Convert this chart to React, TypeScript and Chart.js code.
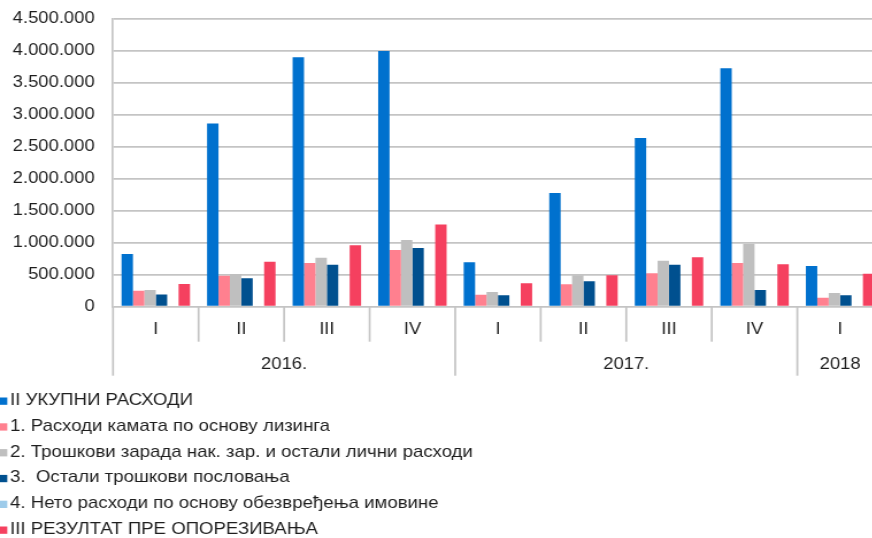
import React, { useEffect, useRef } from 'react';
import { Chart, registerables } from 'chart.js';

Chart.register(...registerables);

const quarterLabels = ['I', 'II', 'III', 'IV', 'I', 'II', 'III', 'IV', 'I'];
const yearLabels = ['2016.', '2017.', '2018'];
const yearSpans = [4, 4, 1];

const seriesNames = [
  'II УКУПНИ РАСХОДИ',
  '1. Расходи камата по основу лизинга',
  '2. Трошкови зарада нак. зар. и остали лични расходи',
  '3.  Остали трошкови пословања',
  '4. Нето расходи по основу обезвређења имовине',
  'III РЕЗУЛТАТ ПРЕ ОПОРЕЗИВАЊА',
];

const totalExpenses = [825000, 2865000, 3900000, 4000000, 695000, 1780000, 2640000, 3730000, 635000];
const leasingInterest = [250000, 485000, 685000, 885000, 185000, 350000, 525000, 685000, 140000];
const salaryCosts = [260000, 510000, 765000, 1045000, 230000, 490000, 720000, 985000, 215000];
const otherCosts = [190000, 445000, 655000, 920000, 180000, 400000, 655000, 260000, 180000];
const impairment = [0, 0, 0, 0, 0, 0, 0, 0, 0];
const resultBeforeTax = [355000, 705000, 960000, 1285000, 365000, 490000, 775000, 665000, 515000];

const yTicks = [0, 500000, 1000000, 1500000, 2000000, 2500000, 3000000, 3500000, 4000000, 4500000];

const colors = ['#0071CE', '#FF808F', '#BFBFBF', '#00508F', '#9DCBEA', '#F5405F'];

const GRID = '#c4c4c4';
const TEXT = '#1e1e1e';
const FONT = "'Liberation Sans', Arial, sans-serif";

// horizontal stretch of the reference rendering
const CSS_W = 884;
const ATTR_W = 769;
const H = 538;
const S = CSS_W / ATTR_W;

const fmt = (v: number) => String(Math.round(v)).replace(/\B(?=(\d{3})+(?!\d))/g, '.');

const axisLegendPlugin = {
  id: 'axisLegend',
  afterDraw(chart: any) {
    const ctx = chart.ctx;
    const x = chart.scales.x;
    const area = chart.chartArea;
    const step = x.getPixelForValue(1) - x.getPixelForValue(0);
    const base = area.bottom;
    ctx.save();
    const starts = new Set<number>();
    let acc = 0;
    yearSpans.forEach((s) => {
      starts.add(acc);
      acc += s;
    });
    starts.add(acc);
    ctx.strokeStyle = GRID;
    ctx.lineWidth = 1.7;
    for (let i = 0; i <= quarterLabels.length; i++) {
      const bx = x.getPixelForValue(0) - step / 2 + i * step;
      const bottom = starts.has(i) ? base + 69 : base + 35;
      ctx.beginPath();
      ctx.moveTo(bx, base);
      ctx.lineTo(bx, bottom);
      ctx.stroke();
    }
    ctx.fillStyle = TEXT;
    ctx.font = `16px ${FONT}`;
    ctx.textAlign = 'center';
    ctx.textBaseline = 'middle';
    quarterLabels.forEach((q, i) => {
      ctx.fillText(q, x.getPixelForValue(i), base + 23);
    });
    acc = 0;
    yearLabels.forEach((yl, j) => {
      const c = (x.getPixelForValue(acc) + x.getPixelForValue(acc + yearSpans[j] - 1)) / 2;
      ctx.fillText(yl, c, base + 58);
      acc += yearSpans[j];
    });
    // legend
    ctx.textAlign = 'left';
    ctx.textBaseline = 'alphabetic';
    ctx.font = `16.2px ${FONT}`;
    chart.data.datasets.forEach((ds: any, i: number) => {
      const baseline = 405 + i * 25.8;
      ctx.fillStyle = ds.backgroundColor;
      ctx.fillRect(0, baseline - 7.5, 7.3 / S, 7.3);
      ctx.fillStyle = TEXT;
      ctx.fillText(ds.label, 10 / S, baseline);
    });
    ctx.restore();
  },
};

export default function App() {
  const ref = useRef<HTMLCanvasElement | null>(null);
  useEffect(() => {
    if (!ref.current) return;
    const series = [totalExpenses, leasingInterest, salaryCosts, otherCosts, impairment, resultBeforeTax];
    const chart = new Chart(ref.current, {
      type: 'bar',
      data: {
        labels: quarterLabels,
        datasets: series.map((d, i) => ({
          label: seriesNames[i],
          data: d,
          backgroundColor: colors[i],
          borderWidth: 0,
          categoryPercentage: 0.8,
          barPercentage: 1.0,
        })),
      },
      options: {
        responsive: false,
        maintainAspectRatio: false,
        devicePixelRatio: 1,
        animation: false,
        layout: { padding: { left: 0, right: 1, top: 19, bottom: 0 } },
        plugins: {
          legend: { display: false },
          tooltip: { enabled: false },
        },
        scales: {
          x: {
            ticks: { display: false },
            grid: { display: false },
            border: { display: false },
            afterFit: (scale: any) => {
              scale.height = H - 306.7;
            },
          },
          y: {
            min: 0,
            max: 4500000,
            afterBuildTicks: (scale: any) => {
              scale.ticks = yTicks.map((v) => ({ value: v }));
            },
            ticks: {
              padding: 0,
              color: TEXT,
              font: { size: 16, family: FONT },
              callback: (v: any) => fmt(Number(v)),
            },
            grid: {
              color: GRID,
              lineWidth: 1.7,
              drawTicks: true,
              tickLength: 16,
              tickColor: 'rgba(0,0,0,0)',
            },
            border: { display: true, color: GRID, width: 1.7 },
            afterFit: (scale: any) => {
              scale.width = 113 / S;
            },
          },
        },
      },
      plugins: [axisLegendPlugin],
    });
    return () => chart.destroy();
  }, []);
  return (
    <div style={{ position: 'fixed', left: 0, top: 0, width: 872, height: H, overflow: 'hidden', background: '#fff' }}>
      <canvas
        ref={ref}
        width={ATTR_W}
        height={H}
        style={{ width: `${CSS_W}px`, height: `${H}px`, display: 'block' }}
      />
    </div>
  );
}
